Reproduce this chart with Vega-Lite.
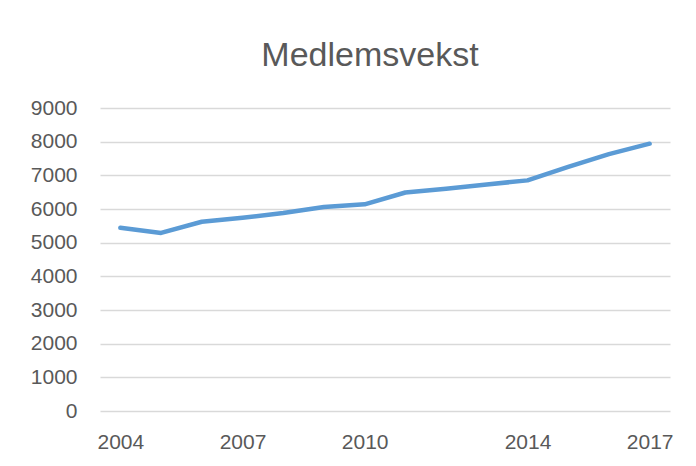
{
  "$schema": "https://vega.github.io/schema/vega-lite/v6.json",
  "width": 570,
  "height": 303,
  "autosize": {"type": "none"},
  "padding": {"left": 100, "top": 108, "right": 26, "bottom": 55},
  "background": "white",
  "config": {
    "view": {"stroke": null},
    "font": "Liberation Sans"
  },
  "title": {
    "text": "Medlemsvekst",
    "fontSize": 34,
    "fontWeight": "normal",
    "font": "Liberation Sans",
    "color": "#595959",
    "anchor": "middle",
    "frame": "group",
    "baseline": "alphabetic",
    "dx": -15,
    "offset": -3
  },
  "data": {
    "values": [
      {"year": 2004, "members": 5440},
      {"year": 2005, "members": 5290},
      {"year": 2006, "members": 5620},
      {"year": 2007, "members": 5740},
      {"year": 2008, "members": 5880},
      {"year": 2009, "members": 6060},
      {"year": 2010, "members": 6140},
      {"year": 2011, "members": 6490},
      {"year": 2012, "members": 6600},
      {"year": 2013, "members": 6730},
      {"year": 2014, "members": 6850},
      {"year": 2015, "members": 7250},
      {"year": 2016, "members": 7630},
      {"year": 2017, "members": 7940}
    ]
  },
  "mark": {"type": "line", "color": "#5b9bd5", "strokeWidth": 4.5, "strokeCap": "round", "strokeJoin": "round"},
  "encoding": {
    "x": {
      "field": "year",
      "type": "quantitative",
      "scale": {"domain": [2003.5, 2017.5], "nice": false, "zero": false},
      "axis": {
        "title": null,
        "values": [2004, 2007, 2010, 2014, 2017],
        "format": "d",
        "grid": false,
        "domain": false,
        "ticks": false,
        "tickSize": 0,
        "labelPadding": 20,
        "labelFontSize": 21,
        "labelColor": "#595959",
        "labelFont": "Liberation Sans"
      }
    },
    "y": {
      "field": "members",
      "type": "quantitative",
      "scale": {"domain": [0, 9000], "nice": false},
      "axis": {
        "title": null,
        "values": [0, 1000, 2000, 3000, 4000, 5000, 6000, 7000, 8000, 9000],
        "format": "d",
        "grid": true,
        "gridColor": "#d9d9d9",
        "gridWidth": 1.5,
        "domain": false,
        "ticks": false,
        "tickSize": 0,
        "labelPadding": 23,
        "labelFontSize": 21,
        "labelColor": "#595959",
        "labelFont": "Liberation Sans"
      }
    }
  }
}
